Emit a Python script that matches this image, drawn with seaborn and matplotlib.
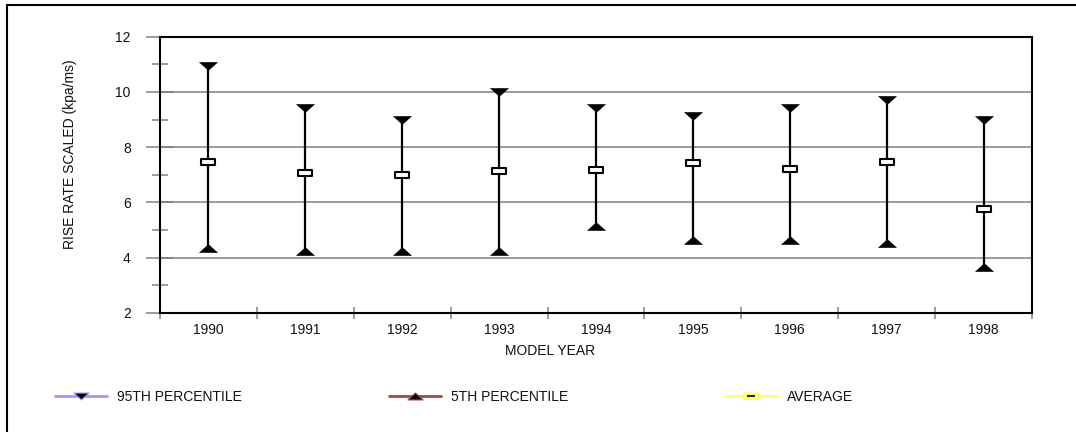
import numpy as np
import matplotlib
matplotlib.use("Agg")
import matplotlib.pyplot as plt
from matplotlib.path import Path
from matplotlib.lines import Line2D
from matplotlib.legend_handler import HandlerTuple
import seaborn as sns

# ---- data ----
years = ["1990", "1991", "1992", "1993", "1994", "1995", "1996", "1997", "1998"]
p95 = [10.95, 9.42, 9.00, 10.00, 9.43, 9.12, 9.43, 9.72, 9.00]
p5 = [4.35, 4.25, 4.25, 4.25, 5.16, 4.66, 4.64, 4.54, 3.65]
avg = [7.46, 7.06, 6.99, 7.13, 7.17, 7.42, 7.21, 7.46, 5.75]
y_ticks = [2, 4, 6, 8, 10, 12]
y_minor = [3, 5, 7, 9, 11]

sns.set_style("white")
plt.rcParams["font.family"] = ["Liberation Sans", "DejaVu Sans"]
plt.rcParams["font.size"] = 10
plt.rcParams["text.color"] = "#111111"
plt.rcParams["xtick.color"] = "#808080"
plt.rcParams["ytick.color"] = "#808080"
plt.rcParams["xtick.labelcolor"] = "#111111"
plt.rcParams["ytick.labelcolor"] = "#111111"
plt.rcParams["axes.labelcolor"] = "#111111"

W, H = 1076, 432
fig = plt.figure(figsize=(W / 100, H / 100), dpi=100)
L, R, T, B = 160, 1032, 36.7, 313
ax = fig.add_axes([L / W, 1 - B / H, (R - L) / W, (B - T) / H])

down_tri = Path([(-1, 0.45), (1, 0.45), (0, -0.45), (-1, 0.45)],
                [Path.MOVETO, Path.LINETO, Path.LINETO, Path.CLOSEPOLY])
up_tri = Path([(-1, -0.45), (1, -0.45), (0, 0.45), (-1, -0.45)],
              [Path.MOVETO, Path.LINETO, Path.LINETO, Path.CLOSEPOLY])
rect = Path([(-1, -0.4), (1, -0.4), (1, 0.4), (-1, 0.4), (-1, -0.4)],
            [Path.MOVETO, Path.LINETO, Path.LINETO, Path.LINETO, Path.CLOSEPOLY])

pos = np.arange(len(years))
ax.vlines(pos, p5, p95, color="black", lw=1.6, zorder=3)
sns.scatterplot(x=years, y=p95, marker=down_tri, s=190, color="black",
                linewidth=0, ax=ax, zorder=4, legend=False)
sns.scatterplot(x=years, y=p5, marker=up_tri, s=190, color="black",
                linewidth=0, ax=ax, zorder=4, legend=False)
sns.scatterplot(x=years, y=avg, marker=rect, s=100, facecolor="white",
                edgecolor="black", linewidth=1.5, ax=ax, zorder=5, legend=False)

ax.set_xlim(-0.5, len(years) - 0.5)
ax.set_ylim(2, 12)

# y axis ticks
ax.set_yticks(y_ticks)
ax.set_yticks(y_minor, minor=True)
ax.tick_params(axis="y", which="major", left=True, direction="inout", length=20,
               width=1.1, color="#808080", pad=11, labelsize=10)
ax.tick_params(axis="y", which="minor", left=True, direction="inout", length=11.5,
               width=1.1, color="#808080")
ax.grid(axis="y", which="major", color="#808080", lw=1.1)
ax.set_axisbelow(True)

# x axis ticks
ax.set_xticks(pos)
ax.set_xticklabels(years)
ax.set_xticks(np.arange(-0.5, len(years), 1.0), minor=True)
ax.tick_params(axis="x", which="major", bottom=True, length=0, pad=7, labelsize=10)
ax.tick_params(axis="x", which="minor", bottom=True, direction="inout", length=8.6,
               width=1.1, color="#808080")

for s in ax.spines.values():
    s.set_color("black")
    s.set_linewidth(1.5)
    s.set_visible(True)

ax.set_ylabel("RISE RATE SCALED (kpa/ms)", fontsize=10)
ax.yaxis.set_label_coords((77 - L) / (R - L), (B - 154) / (B - T))
ax.set_xlabel("MODEL YEAR", fontsize=10)
ax.xaxis.set_label_coords((550 - L) / (R - L), (B - 344) / (B - T))

# legends
h95 = Line2D([], [], color="#9999ff", lw=2, marker=down_tri, markersize=11,
             markerfacecolor="black", markeredgecolor="#9999ff", markeredgewidth=0.8)
h5 = Line2D([], [], color="#a04848", lw=2, marker=up_tri, markersize=11,
            markerfacecolor="black", markeredgecolor="#a04848", markeredgewidth=0.8)
havg_bg = Line2D([], [], color="#ffff70", lw=2, marker=rect, markersize=11,
                 markerfacecolor="#ffff70", markeredgecolor="#ffff70")
havg_fg = Line2D([], [], color="none", lw=0, marker="_", markersize=6,
                 markeredgecolor="black", markeredgewidth=1.2)

entries = [(h95, "95TH PERCENTILE", 55), (h5, "5TH PERCENTILE", 389),
           ((havg_bg, havg_fg), "AVERAGE", 725)]
for h, lab, x0 in entries:
    fig.legend(handles=[h], labels=[lab], loc="center left",
               bbox_to_anchor=(x0 / W, 1 - 397 / H), frameon=False,
               borderpad=0, borderaxespad=0, handlelength=3.74,
               handletextpad=0.72, fontsize=10,
               handler_map={tuple: HandlerTuple(ndivide=1, pad=0)})

# figure border lines
fig.add_artist(Line2D([7 / W, 7 / W], [0, 1 - 5 / H], transform=fig.transFigure,
                      color="black", lw=1.5))
fig.add_artist(Line2D([7 / W, 1], [1 - 5 / H, 1 - 5 / H], transform=fig.transFigure,
                      color="black", lw=1.5))

fig.savefig("out.png", dpi=100)
